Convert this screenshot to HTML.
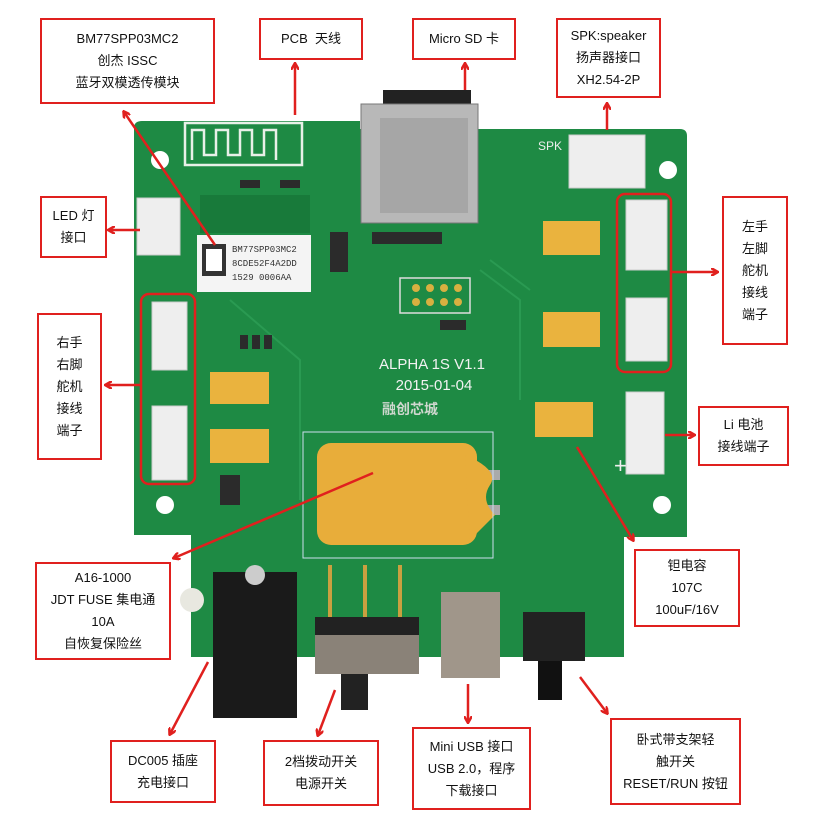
<!DOCTYPE html>
<html><head><meta charset="utf-8"><style>
body{margin:0;background:#fff;}
.b{position:absolute;border:2px solid #e0201e;background:#fff;box-sizing:border-box;display:flex;flex-direction:column;justify-content:center;align-items:center;font-family:"Liberation Sans","Noto Sans CJK SC",sans-serif;font-size:13px;color:#111;line-height:22px;text-align:center;}
</style></head><body>
<div style="position:relative;width:832px;height:834px;overflow:hidden;">
<svg width="832" height="834" style="position:absolute;left:0;top:0">
<defs><marker id="a" markerWidth="8" markerHeight="8" refX="6" refY="4" orient="auto" markerUnits="userSpaceOnUse"><path d="M0,0 L7,4 L0,8" fill="none" stroke="#e0201e" stroke-width="2.5"/></marker></defs>
<path d="M142,121 L360,121 L360,129 L680,129 Q687,129 687,136 L687,537 L624,537 L624,657 L191,657 L191,535 L134,535 L134,128 Q134,121 142,121 Z" fill="#1e8a44"/>
<path d="M185,123 h117 v42 h-117 z M192,160 v-30 h12 v25 h12 v-25 h12 v25 h12 v-25 h12 v25 h12 v-25 h12 v30" fill="none" stroke="#e8f0e8" stroke-width="2.5"/>
<circle cx="160" cy="160" r="9" fill="#fff"/><circle cx="165" cy="505" r="9" fill="#fff"/><circle cx="668" cy="170" r="9" fill="#fff"/><circle cx="662" cy="505" r="9" fill="#fff"/>
<g stroke="#2a9a52" stroke-width="2" fill="none"><path d="M480,270 L520,300 L520,400"/><path d="M490,260 L530,290"/><path d="M230,300 L300,360 L300,500"/></g>
<g fill="#2b2b2b"><rect x="240" y="180" width="20" height="8"/><rect x="280" y="180" width="20" height="8"/><rect x="330" y="232" width="18" height="40"/><rect x="372" y="232" width="70" height="12"/><rect x="240" y="335" width="8" height="14"/><rect x="252" y="335" width="8" height="14"/><rect x="264" y="335" width="8" height="14"/><rect x="220" y="475" width="20" height="30"/><rect x="440" y="320" width="26" height="10"/></g>
<rect x="383" y="90" width="88" height="22" fill="#222"/>
<rect x="361" y="104" width="117" height="119" fill="#b8b8b8" stroke="#777"/>
<rect x="380" y="118" width="88" height="95" fill="#a6a6a6"/>
<rect x="197" y="235" width="114" height="57" fill="#f4f4f4"/>
<rect x="202" y="244" width="24" height="32" fill="#333"/><rect x="206" y="249" width="16" height="22" fill="#fff"/>
<text x="232" y="252" font-family="Liberation Mono" font-size="9" fill="#333">BM77SPP03MC2</text>
<text x="232" y="266" font-family="Liberation Mono" font-size="9" fill="#333">8CDE52F4A2DD</text>
<text x="232" y="280" font-family="Liberation Mono" font-size="9" fill="#333">1529 0006AA</text>
<rect x="200" y="195" width="110" height="38" fill="#187a3a"/>
<rect x="400" y="278" width="70" height="35" fill="none" stroke="#ddd" stroke-width="1.5"/>
<g fill="#d8b040"><circle cx="416" cy="288" r="4"/><circle cx="430" cy="288" r="4"/><circle cx="444" cy="288" r="4"/><circle cx="458" cy="288" r="4"/><circle cx="416" cy="302" r="4"/><circle cx="430" cy="302" r="4"/><circle cx="444" cy="302" r="4"/><circle cx="458" cy="302" r="4"/></g>
<g fill="#eab33e"><rect x="210" y="372" width="59" height="32"/><rect x="210" y="429" width="59" height="34"/><rect x="543" y="221" width="57" height="34"/><rect x="543" y="312" width="57" height="35"/><rect x="535" y="402" width="58" height="35"/></g>
<path d="M470,470 L500,470 L500,480 L470,480 Z M470,505 L500,505 L500,515 L470,515 Z" fill="#aaa"/>
<rect x="317" y="443" width="160" height="102" rx="14" fill="#e8ad3a"/>
<path d="M465,455 Q500,470 490,485 Q480,500 495,515 L470,540 Z" fill="#e8ad3a"/>
<rect x="303" y="432" width="190" height="126" fill="none" stroke="#cde" stroke-width="1"/>
<text x="432" y="369" text-anchor="middle" font-family="Liberation Sans" font-size="15" fill="#f2f2f2">ALPHA  1S  V1.1</text>
<text x="434" y="390" text-anchor="middle" font-family="Liberation Sans" font-size="15" fill="#f2f2f2">2015-01-04</text>
<text x="410" y="414" text-anchor="middle" font-family="Liberation Sans,Noto Sans CJK SC" font-size="14" font-weight="bold" fill="#cfd8cf">融创芯城</text>
<text x="538" y="150" font-family="Liberation Sans" font-size="12" fill="#eee">SPK</text>
<g fill="#eeeeee" stroke="#ccc"><rect x="152" y="302" width="35" height="68"/><rect x="152" y="406" width="35" height="74"/><rect x="626" y="200" width="41" height="70"/><rect x="626" y="298" width="41" height="63"/><rect x="626" y="392" width="38" height="82"/><rect x="569" y="135" width="76" height="53"/><rect x="137" y="198" width="43" height="57"/></g>
<rect x="141" y="294" width="54" height="190" rx="8" fill="none" stroke="#e0201e" stroke-width="2.5"/>
<rect x="617" y="194" width="54" height="178" rx="8" fill="none" stroke="#e0201e" stroke-width="2.5"/>
<text x="614" y="473" font-family="Liberation Sans" font-size="22" fill="#eee">+</text>
<circle cx="192" cy="600" r="12" fill="#e8e8e0"/>
<rect x="213" y="572" width="84" height="146" fill="#1a1a1a"/>
<circle cx="255" cy="575" r="10" fill="#ccc"/>
<g stroke="#c9a040" stroke-width="4" fill="none"><path d="M330,565 V617"/><path d="M365,565 V617"/><path d="M400,565 V617"/></g>
<rect x="315" y="617" width="104" height="57" fill="#8a8278"/><rect x="315" y="617" width="104" height="18" fill="#222"/>
<rect x="341" y="674" width="27" height="36" fill="#222"/>
<rect x="441" y="592" width="59" height="86" fill="#a0968a"/>
<rect x="523" y="612" width="62" height="49" fill="#222"/><rect x="538" y="661" width="24" height="39" fill="#111"/>
<g stroke="#e0201e" stroke-width="2.5" fill="none" marker-end="url(#a)">
<line x1="215" y1="245" x2="124" y2="112"/>
<line x1="295" y1="115" x2="295" y2="64"/>
<line x1="465" y1="90" x2="465" y2="64"/>
<line x1="607" y1="130" x2="607" y2="104"/>
<line x1="140" y1="230" x2="109" y2="230"/>
<line x1="140" y1="385" x2="106" y2="385"/>
<line x1="672" y1="272" x2="717" y2="272"/>
<line x1="665" y1="435" x2="694" y2="435"/>
<line x1="373" y1="473" x2="174" y2="558"/>
<line x1="577" y1="447" x2="633" y2="540"/>
<line x1="208" y1="662" x2="170" y2="734"/>
<line x1="335" y1="690" x2="318" y2="735"/>
<line x1="468" y1="684" x2="468" y2="722"/>
<line x1="580" y1="677" x2="607" y2="713"/>
</g>
</svg>
<div class="b" style="left:40px;top:18px;width:175px;height:86px;">BM77SPP03MC2<br>创杰 ISSC<br>蓝牙双模透传模块</div>
<div class="b" style="left:259px;top:18px;width:104px;height:42px;">PCB&nbsp; 天线</div>
<div class="b" style="left:412px;top:18px;width:104px;height:42px;">Micro SD 卡</div>
<div class="b" style="left:556px;top:18px;width:105px;height:80px;">SPK:speaker<br>扬声器接口<br>XH2.54-2P</div>
<div class="b" style="left:40px;top:196px;width:67px;height:62px;">LED 灯<br>接口</div>
<div class="b" style="left:37px;top:313px;width:65px;height:147px;">右手<br>右脚<br>舵机<br>接线<br>端子</div>
<div class="b" style="left:722px;top:196px;width:66px;height:149px;">左手<br>左脚<br>舵机<br>接线<br>端子</div>
<div class="b" style="left:698px;top:406px;width:91px;height:60px;">Li 电池<br>接线端子</div>
<div class="b" style="left:35px;top:562px;width:136px;height:98px;">A16-1000<br>JDT FUSE 集电通<br>10A<br>自恢复保险丝</div>
<div class="b" style="left:634px;top:549px;width:106px;height:78px;">钽电容<br>107C<br>100uF/16V</div>
<div class="b" style="left:110px;top:740px;width:106px;height:63px;">DC005 插座<br>充电接口</div>
<div class="b" style="left:263px;top:740px;width:116px;height:66px;">2档拨动开关<br>电源开关</div>
<div class="b" style="left:412px;top:727px;width:119px;height:83px;">Mini USB 接口<br>USB 2.0，程序<br>下载接口</div>
<div class="b" style="left:610px;top:718px;width:131px;height:87px;">卧式带支架轻<br>触开关<br>RESET/RUN 按钮</div>
</div>
</body></html>
